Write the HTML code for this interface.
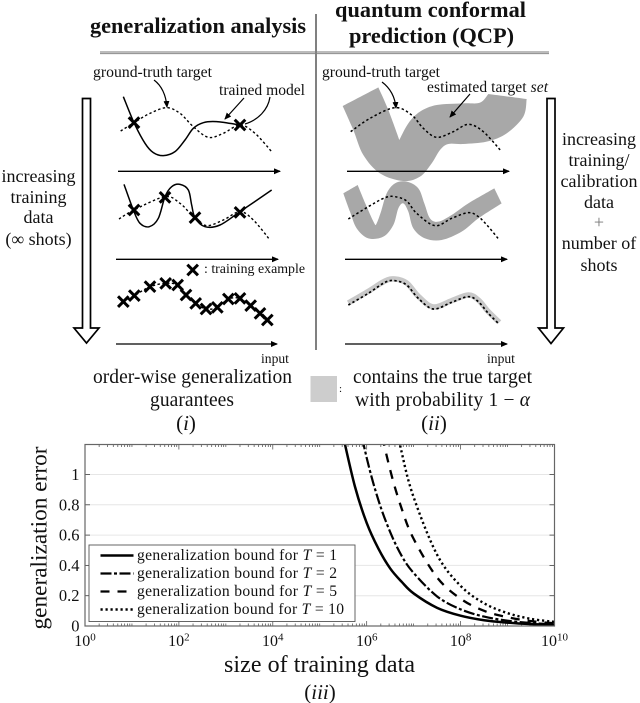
<!DOCTYPE html>
<html lang="en">
<head>
<meta charset="utf-8">
<title>Generalization analysis vs quantum conformal prediction</title>
<style>
html,body{margin:0;padding:0;background:#fff;}
body{width:640px;height:703px;overflow:hidden;}
svg{display:block;filter:blur(0.35px);}
text{font-family:"Liberation Serif",serif;fill:#111;}
</style>
</head>
<body>
<svg id="figure" xmlns="http://www.w3.org/2000/svg" width="640" height="703" viewBox="0 0 640 703">
<defs>
<marker id="tip" markerWidth="7" markerHeight="6" refX="6" refY="3" orient="auto" markerUnits="userSpaceOnUse"><path d="M0,0 L7,3 L0,6 Z" fill="#000"/></marker>
<clipPath id="plot-clip"><rect x="85" y="444.5" width="469.5" height="181.5"/></clipPath>
</defs>

<rect width="640" height="703" fill="#fff"/>

<g id="bands"></g>

<line x1="100" y1="52" x2="549" y2="52" stroke="#777" stroke-width="1"/>
<line x1="100" y1="53.6" x2="549" y2="53.6" stroke="#888" stroke-width="1"/>
<line x1="316" y1="14" x2="316" y2="350" stroke="#808080" stroke-width="2"/>

<text x="90" y="33" font-size="22.3" font-weight="bold" textLength="216" lengthAdjust="spacing">generalization analysis</text>
<text x="335" y="17" font-size="22.3" font-weight="bold" textLength="191" lengthAdjust="spacing">quantum conformal</text>
<text x="349" y="43" font-size="22.3" font-weight="bold" textLength="165" lengthAdjust="spacing">prediction (QCP)</text>

<g id="curves"></g>

<g stroke="#000" stroke-width="1.3">
<line x1="118" y1="171.3" x2="280" y2="171.3" marker-end="url(#tip)"/>
<line x1="116" y1="259.3" x2="278" y2="259.3" marker-end="url(#tip)"/>
<line x1="116" y1="344" x2="277" y2="344" marker-end="url(#tip)"/>
<line x1="347" y1="171.3" x2="509" y2="171.3" marker-end="url(#tip)"/>
<line x1="345" y1="259.3" x2="507" y2="259.3" marker-end="url(#tip)"/>
<line x1="345" y1="344" x2="507" y2="344" marker-end="url(#tip)"/>
</g>

<path d="M82.5,98.5 H90.5 V328 H99 L86.5,343 L74,328 H82.5 Z" fill="#fff" stroke="#000" stroke-width="1.7"/>
<path d="M547,98.5 H555 V328 H563.5 L551,343.5 L538.5,328 H547 Z" fill="#fff" stroke="#000" stroke-width="1.7"/>

<g text-anchor="middle" font-size="18">
<text x="38.5" y="182" textLength="74">increasing</text>
<text x="38.5" y="203">training</text>
<text x="38.5" y="223">data</text>
<text x="38.5" y="245">(∞ shots)</text>
</g>
<g text-anchor="middle" font-size="18">
<text x="599" y="145">increasing</text>
<text x="599" y="166">training/</text>
<text x="599" y="187">calibration</text>
<text x="599" y="208">data</text>
<text x="599" y="228" style="fill:#777">+</text>
<text x="599" y="249">number of</text>
<text x="599" y="271">shots</text>
</g>

<text x="93" y="77" font-size="15.7" textLength="119">ground-truth target</text>
<text x="219" y="95" font-size="15.6" textLength="86">trained model</text>
<text x="322" y="77" font-size="15.6" textLength="118">ground-truth target</text>
<text x="427" y="92" font-size="15.5" textLength="121">estimated target <tspan font-style="italic">set</tspan></text>
<text x="204" y="273" font-size="13.9" textLength="101">: training example</text>
<text x="261" y="363" font-size="13.6">input</text>
<text x="487" y="363" font-size="13.6">input</text>

<g fill="none" stroke="#000" stroke-width="1.2">
<path d="M154,80 C162,86 166,96 167,107" marker-end="url(#tip)"/>
<line x1="244" y1="98" x2="225" y2="119" marker-end="url(#tip)"/>
<path d="M270,97 C268,110 258,120 245,124"/>
<path d="M382,82 C390,88 395,97 396,108" marker-end="url(#tip)"/>
<line x1="470" y1="94" x2="450" y2="117" marker-end="url(#tip)"/>
</g>

<text x="192.5" y="383" text-anchor="middle" font-size="19.5" textLength="199">order-wise generalization</text>
<text x="192" y="406" text-anchor="middle" font-size="19.5" textLength="84">guarantees</text>
<text x="186" y="430" text-anchor="middle" font-size="21">(<tspan font-style="italic">i</tspan>)</text>
<rect x="310.5" y="376" width="26.5" height="26" fill="#cdcdcd"/>
<text x="339" y="392" font-size="11">:</text>
<text x="442.5" y="383" text-anchor="middle" font-size="19.5" textLength="179">contains the true target</text>
<text x="442.5" y="406" text-anchor="middle" font-size="19.5" textLength="175">with probability 1 − <tspan font-style="italic">α</tspan></text>
<text x="434" y="430" text-anchor="middle" font-size="21">(<tspan font-style="italic">ii</tspan>)</text>

<g id="chart"></g>

<rect x="89" y="545" width="266" height="76.5" fill="#fff" stroke="#555" stroke-width="0.9"/>
<g id="legend"></g>

<text x="46.5" y="538" transform="rotate(-90 46.5 538)" text-anchor="middle" font-size="23.3" textLength="183">generalization error</text>
<text x="319.5" y="672" text-anchor="middle" font-size="24" textLength="191">size of training data</text>
<text x="320" y="699" text-anchor="middle" font-size="21">(<tspan font-style="italic">iii</tspan>)</text>
</svg>

<script>
// ---- chart data ----
var trainingSizeLog10 = [5.5, 5.75, 6, 6.25, 6.5, 6.75, 7, 7.5, 8, 8.5, 9, 9.5, 10];
var boundT1  = [1.25, 0.92, 0.68, 0.51, 0.38, 0.29, 0.215, 0.12, 0.068, 0.038, 0.022, 0.012, 0.007];
var boundT2  = [1.98, 1.48, 1.11, 0.83, 0.62, 0.46, 0.35, 0.195, 0.11, 0.062, 0.035, 0.02, 0.011];
var boundT5  = [3.25, 2.48, 1.85, 1.38, 1.03, 0.77, 0.575, 0.32, 0.18, 0.10, 0.058, 0.032, 0.018];
var boundT10 = [4.80, 3.60, 2.70, 2.05, 1.53, 1.14, 0.85, 0.47, 0.265, 0.15, 0.085, 0.047, 0.027];
var xTickExponents = [0, 2, 4, 6, 8, 10];
var yTickValues = [0, 0.2, 0.4, 0.6, 0.8, 1];
var yTickLabels = ["0", "0.2", "0.4", "0.6", "0.8", "1"];
var legendLabels = ["1", "2", "5", "10"];

var NS = "http://www.w3.org/2000/svg";
var plotLeft = 85, plotRight = 554.5, plotTop = 444.5, plotBottom = 626;
function xScale(logValue) { return plotLeft + (logValue / 10) * (plotRight - plotLeft); }
function yScale(value) { return plotBottom - (value / 1.198) * (plotBottom - plotTop); }

function spline(points) {
  var d = "M" + points[0][0].toFixed(2) + "," + points[0][1].toFixed(2);
  d += splineSegment(points);
  return d;
}
function splineSegment(points) {
  var d = "";
  for (var i = 0; i < points.length - 1; i++) {
    var p0 = points[Math.max(i - 1, 0)], p1 = points[i], p2 = points[i + 1], p3 = points[Math.min(i + 2, points.length - 1)];
    d += " C" + (p1[0] + (p2[0] - p0[0]) / 6).toFixed(2) + "," + (p1[1] + (p2[1] - p0[1]) / 6).toFixed(2) +
         " " + (p2[0] - (p3[0] - p1[0]) / 6).toFixed(2) + "," + (p2[1] - (p3[1] - p1[1]) / 6).toFixed(2) +
         " " + p2[0].toFixed(2) + "," + p2[1].toFixed(2);
  }
  return d;
}

// ---- chart ----
var chart = document.getElementById("chart");

yTickValues.forEach(function (v, i) {
  if (v > 0) {
    var grid = document.createElementNS(NS, "line");
    
    
    grid.setAttribute("x1", plotLeft);
    grid.setAttribute("x2", plotRight);
    grid.setAttribute("y1", yScale(v));
    grid.setAttribute("y2", yScale(v));
    grid.setAttribute("stroke", "#e6e6e6");
    grid.setAttribute("stroke-width", "1");
    chart.appendChild(grid);
  }
  [[plotLeft, plotLeft + 5], [plotRight, plotRight - 5]].forEach(function (pair) {
    var tick = document.createElementNS(NS, "line");
    
    
    tick.setAttribute("x1", pair[0]);
    tick.setAttribute("x2", pair[1]);
    tick.setAttribute("y1", yScale(v));
    tick.setAttribute("y2", yScale(v));
    tick.setAttribute("stroke", "#444");
    tick.setAttribute("stroke-width", "0.8");
    chart.appendChild(tick);
  });
  var label = document.createElementNS(NS, "text");
  
  
  label.setAttribute("x", 79.5);
  label.setAttribute("y", yScale(v) + 5.5);
  label.setAttribute("text-anchor", "end");
  label.setAttribute("font-size", "16.5");
  label.textContent = yTickLabels[i];
  chart.appendChild(label);
});

for (var decade = 0; decade < 10; decade++) {
  for (var m = 1; m <= 9; m++) {
    var lx = xScale(decade + Math.log10(m));
    var isMajor = m === 1 && xTickExponents.indexOf(decade) >= 0;
    var len = isMajor ? 5 : 2.5;
    [[plotBottom, plotBottom - len], [plotTop, plotTop + len]].forEach(function (pair) {
      var xt = document.createElementNS(NS, "line");
      
      
      xt.setAttribute("x1", lx);
      xt.setAttribute("x2", lx);
      xt.setAttribute("y1", pair[0]);
      xt.setAttribute("y2", pair[1]);
      xt.setAttribute("stroke", "#444");
      xt.setAttribute("stroke-width", "0.7");
      chart.appendChild(xt);
    });
  }
}

xTickExponents.forEach(function (e) {
  var t = document.createElementNS(NS, "text");
  
  
  t.setAttribute("x", xScale(e));
  t.setAttribute("y", 646);
  t.setAttribute("text-anchor", "middle");
  t.setAttribute("font-size", "16");
  var base = document.createElementNS(NS, "tspan");
  base.textContent = "10";
  var sup = document.createElementNS(NS, "tspan");
  sup.setAttribute("dy", "-5.5");
  sup.setAttribute("font-size", "11");
  sup.textContent = String(e);
  t.appendChild(base);
  t.appendChild(sup);
  chart.appendChild(t);
});

var seriesList = [
  { name: "series-t1", values: boundT1, dash: "", width: 2.5 },
  { name: "series-t2", values: boundT2, dash: "11 2.5 3 2.5", width: 2.2 },
  { name: "series-t5", values: boundT5, dash: "9 8", width: 2.3 },
  { name: "series-t10", values: boundT10, dash: "2.2 2.8", width: 2.4 }
];
var seriesGroup = document.createElementNS(NS, "g");


seriesGroup.setAttribute("clip-path", "url(#plot-clip)");
chart.appendChild(seriesGroup);
seriesList.forEach(function (s) {
  var pts = s.values.map(function (v, i) { return [xScale(trainingSizeLog10[i]), yScale(v)]; });
  var path = document.createElementNS(NS, "path");
  
  
  path.setAttribute("d", spline(pts));
  path.setAttribute("fill", "none");
  path.setAttribute("stroke", "#000");
  path.setAttribute("stroke-width", s.width);
  if (s.dash) { path.setAttribute("stroke-dasharray", s.dash); }
  seriesGroup.appendChild(path);
});

var frame = document.createElementNS(NS, "rect");


frame.setAttribute("x", plotLeft);
frame.setAttribute("y", plotTop);
frame.setAttribute("width", plotRight - plotLeft);
frame.setAttribute("height", plotBottom - plotTop);
frame.setAttribute("fill", "none");
frame.setAttribute("stroke", "#666");
frame.setAttribute("stroke-width", "1.2");
chart.appendChild(frame);

// ---- legend ----
var legend = document.getElementById("legend");
seriesList.forEach(function (s, i) {
  var rowY = 555.5 + i * 18;
  var sample = document.createElementNS(NS, "line");
  
  
  sample.setAttribute("x1", 100.5);
  sample.setAttribute("x2", 133.5);
  sample.setAttribute("y1", rowY);
  sample.setAttribute("y2", rowY);
  sample.setAttribute("stroke", "#000");
  sample.setAttribute("stroke-width", s.width);
  if (s.dash) { sample.setAttribute("stroke-dasharray", s.dash); }
  legend.appendChild(sample);
  var entry = document.createElementNS(NS, "text");
  
  
  entry.setAttribute("x", 137);
  entry.setAttribute("y", rowY + 4.5);
  entry.setAttribute("font-size", "15.6");
  entry.setAttribute("textLength", i === 3 ? "207" : "200");
  var a = document.createElementNS(NS, "tspan");
  a.textContent = "generalization bound for ";
  var b = document.createElementNS(NS, "tspan");
  b.setAttribute("font-style", "italic");
  b.textContent = "T";
  var c = document.createElementNS(NS, "tspan");
  c.textContent = " = " + legendLabels[i];
  entry.appendChild(a);
  entry.appendChild(b);
  entry.appendChild(c);
  legend.appendChild(entry);
});

// ---- schematic illustrations ----
function toAbs(points, ox, oy) {
  return points.map(function (p) { return [ox + p[0] / 3, oy + p[1] / 3]; });
}
function addBand(name, segments, ox, oy, fill) {
  var d = "";
  segments.forEach(function (seg, i) {
    var abs = toAbs(seg, ox, oy);
    if (i === 0) { d += "M" + abs[0][0] + "," + abs[0][1]; }
    d += splineSegment(abs);
  });
  var band = document.createElementNS(NS, "path");
  
  
  band.setAttribute("d", d + " Z");
  band.setAttribute("fill", fill);
  document.getElementById("bands").appendChild(band);
}
addBand("prediction-set-large", [
  [[68,318],[175,262]],
  [[175,262],[205,330],[238,420]],
  [[238,420],[265,370],[300,335],[350,315],[430,310],[480,308],[505,282]],
  [[505,282],[620,297]],
  [[620,297],[610,350],[560,400],[500,425],[430,432],[385,432],[360,450],[335,490],[300,530],[250,543],[180,520],[130,465],[100,390],[68,318]]
], 320, 0, "#a8a8a8");
addBand("prediction-set-medium", [
  [[25,55],[68,30]],
  [[68,30],[95,95],[118,145],[125,145],[138,110],[155,55],[180,25],[215,20],[250,40],[268,85],[285,130],[310,140],[350,120],[400,85],[478,40]],
  [[478,40],[500,85]],
  [[500,85],[430,130],[380,170],[320,195],[270,190],[235,160],[220,110],[205,85],[190,100],[175,150],[145,185],[100,190],[65,160],[45,110],[25,55]]
], 335, 175, "#a8a8a8");

function addCurve(name, points, ox, oy, dash, width, color) {
  var c = document.createElementNS(NS, "path");
  
  
  c.setAttribute("d", spline(toAbs(points, ox, oy)));
  c.setAttribute("fill", "none");
  c.setAttribute("stroke", color || "#000");
  c.setAttribute("stroke-width", width);
  if (dash) { c.setAttribute("stroke-dasharray", dash); }
  document.getElementById("curves").appendChild(c);
}
var dotted = "2.4 2.4";
var targetTop = [[362,393],[402,368],[450,340],[500,323],[540,340],[580,380],[625,412],[670,400],[720,375],[765,400],[815,455]];
var targetMid = [[27,132],[72,105],[165,65],[210,85],[240,115],[255,128],[290,152],[340,135],[390,110],[430,135],[480,195]];
var rightTop = [[92,395],[150,355],[225,323],[275,345],[310,385],[350,412],[400,395],[445,373],[490,395],[545,455]];
var rightMid = [[40,132],[100,95],[150,68],[180,65],[215,78],[245,115],[300,152],[350,130],[400,113],[430,125],[460,155],[493,195]];
var rightLow = [[40,120],[100,85],[150,52],[180,47],[215,60],[250,100],[295,132],[350,112],[400,95],[430,110],[460,145],[493,178]];

addCurve("tight-set-band", [[40,114],[100,79],[150,48],[180,42],[215,54],[250,94],[295,126],[350,107],[400,90],[430,105],[460,140],[493,172]], 335, 265, "", 5.5, "#c8c8c8");

addCurve("left-target-1", targetTop, 0, 0, dotted, 1.4);
addCurve("left-model-1", [[370,290],[402,368],[435,430],[460,458],[490,467],[525,455],[555,420],[580,385],[610,368],[650,365],[720,375]], 0, 0, "", 1.5);
addCurve("left-target-2", targetMid, 110, 175, dotted, 1.4);
addCurve("left-model-2", [[42,28],[70,105],[90,145],[118,155],[145,130],[165,65],[185,35],[210,28],[235,45],[245,90],[255,128],[285,155],[330,150],[390,110],[485,45]], 110, 175, "", 1.5);
addCurve("left-target-3", [[370,275],[403,257],[450,230],[497,220],[533,225],[558,255],[587,280],[618,297],[652,292],[685,267],[720,265],[752,287],[780,310],[802,330]], 0, 210, dotted, 1.4);
addCurve("right-target-1", rightTop, 320, 0, dotted, 1.5);
addCurve("right-target-2", rightMid, 335, 175, dotted, 1.5);
addCurve("right-target-3", rightLow, 335, 265, dotted, 1.7);

function addCross(cx, cy) {
  var r = 5.3;
  var x = document.createElementNS(NS, "path");
  
  
  x.setAttribute("d", "M" + (cx - r) + "," + (cy - r) + " L" + (cx + r) + "," + (cy + r) + " M" + (cx - r) + "," + (cy + r) + " L" + (cx + r) + "," + (cy - r));
  x.setAttribute("stroke", "#000");
  x.setAttribute("stroke-width", "3");
  x.setAttribute("fill", "none");
  document.getElementById("curves").appendChild(x);
}
[[402,368],[720,375]].forEach(function (p) { addCross(p[0] / 3, p[1] / 3); });
[[72,105],[165,67],[255,128],[390,112]].forEach(function (p) { addCross(110 + p[0] / 3, 175 + p[1] / 3); });
[[370,275],[403,257],[450,230],[497,220],[533,225],[558,255],[587,280],[618,297],[652,292],[685,267],[720,265],[752,287],[780,310],[802,330],[578,180]].forEach(function (p) { addCross(p[0] / 3, 210 + p[1] / 3); });
</script>
</body>
</html>
